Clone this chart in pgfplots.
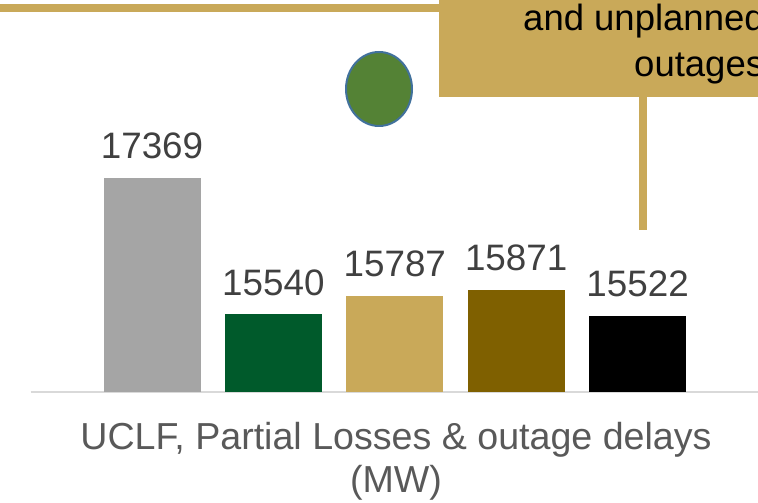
\documentclass[border=0pt]{standalone}
\usepackage{pgfplots}
\pgfplotsset{compat=1.18}
\usepackage{fontspec}
\setmainfont{Liberation Sans}
\definecolor{cgray}{HTML}{A5A5A5}
\definecolor{cgreen}{HTML}{005A2B}
\definecolor{cgold}{HTML}{C9A959}
\definecolor{cbrown}{HTML}{7F6000}
\definecolor{cnum}{HTML}{404040}
\definecolor{clab}{HTML}{595959}
\definecolor{caxis}{HTML}{D9D9D9}
\definecolor{cellfill}{HTML}{548235}
\definecolor{celldraw}{HTML}{41719C}
\begin{document}
\begin{tikzpicture}
\useasboundingbox (0,0) rectangle (758bp,503bp);
\clip (0,0) rectangle (758bp,503bp);
% decorations
\fill[cgold] (0bp,491bp) rectangle (440bp,499bp);
\fill[cgold] (439bp,406bp) rectangle (762bp,504bp);
\fill[cgold] (639bp,273bp) rectangle (647bp,406.5bp);
\node[anchor=base west, inner sep=0pt, font=\fontsize{36.5bp}{43bp}\selectfont, text=black] at (523bp,472.3bp) {and unplanned};
\node[anchor=base west, inner sep=0pt, font=\fontsize{36.5bp}{43bp}\selectfont, text=black] at (634bp,426bp) {outages};
\draw[fill=cellfill, draw=celldraw, line width=2bp] (379bp,414bp) ellipse [x radius=33bp, y radius=37bp];
\begin{axis}[
 at={(30.6bp,111bp)}, anchor=south west, scale only axis,
 width=728.4bp, height=392bp,
 xmin=-1, xmax=5, ymin=14500, ymax=19745,
 axis x line*=bottom, axis y line=none,
 x axis line style={draw=caxis, line width=1.5bp, -},
 xtick=\empty, ytick=\empty,
 ybar, bar width=97bp, bar shift=0pt,
 clip=false,
 nodes near coords,
 every node near coord/.append style={font=\fontsize{36.8bp}{43bp}\selectfont, text=cnum, anchor=base, yshift=19bp, inner sep=0pt},
 /pgf/number format/1000 sep={},
 /pgf/number format/assume math mode=true,
]
\addplot[fill=cgray, draw=none, bar shift=0pt] coordinates {(0,17369)};
\addplot[fill=cgreen, draw=none, bar shift=0pt] coordinates {(1,15540)};
\addplot[fill=cgold, draw=none, bar shift=0pt] coordinates {(2,15787)};
\addplot[fill=cbrown, draw=none, bar shift=0pt] coordinates {(3,15871)};
\addplot[fill=black, draw=none, bar shift=0pt] coordinates {(4,15522)};
\end{axis}
\node[anchor=base, inner sep=0pt, font=\fontsize{37.6bp}{44bp}\selectfont, text=clab] at (396bp,53bp) {UCLF, Partial Losses \& outage delays};
\node[anchor=base, inner sep=0pt, font=\fontsize{37.6bp}{44bp}\selectfont, text=clab] at (396bp,11bp) {(MW)};
\end{tikzpicture}
\end{document}
